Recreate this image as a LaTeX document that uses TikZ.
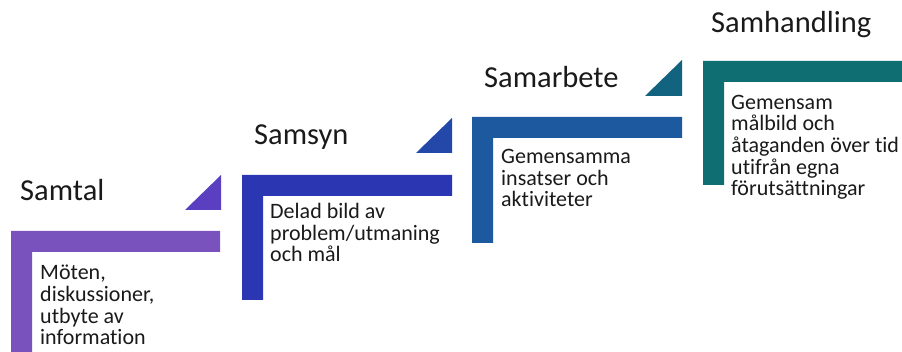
\documentclass[tikz,border=0pt]{standalone}
\usepackage{fontspec}
\setmainfont{Carlito}[Ligatures=NoCommon]
\definecolor{barA}{HTML}{7A52BE}
\definecolor{triA}{HTML}{5A3FC0}
\definecolor{barB}{HTML}{2B36B2}
\definecolor{triB}{HTML}{2447AA}
\definecolor{barC}{HTML}{1C599E}
\definecolor{triC}{HTML}{11637F}
\definecolor{barD}{HTML}{0E6E72}
\definecolor{txt}{HTML}{1A1A1A}
\begin{document}
\begin{tikzpicture}[x=1pt,y=-1pt,
  titletext/.style={anchor=base west,inner sep=0pt,text=txt,font=\fontsize{30.5}{36}\selectfont},
  bodytext/.style={anchor=base west,inner sep=0pt,text=txt,align=left,font=\fontsize{22}{21.7}\selectfont}]
\useasboundingbox (0,0) rectangle (902,352);
% step 1
\fill[barA] (11,231) -- (220,231) -- (220,252) -- (32,252) -- (32,352) -- (11,352) -- cycle;
\fill[triA] (221,175) -- (221,210) -- (185,210) -- cycle;
% step 2
\fill[barB] (242,175) -- (452,175) -- (452,196) -- (263,196) -- (263,300) -- (242,300) -- cycle;
\fill[triB] (452,118) -- (452,153) -- (416,153) -- cycle;
% step 3
\fill[barC] (472,117) -- (682,117) -- (682,138) -- (493,138) -- (493,243) -- (472,243) -- cycle;
\fill[triC] (682,60) -- (682,96) -- (645,96) -- cycle;
% step 4
\fill[barD] (703,61) -- (902,61) -- (902,82) -- (724,82) -- (724,185) -- (703,185) -- cycle;
% titles
\node[titletext] (t1) at (20,201) {Samtal};
\node[titletext] (t2) at (254,145) {Samsyn};
\node[titletext] (t3) at (484,88) {Samarbete};
\node[titletext] (t4) at (711,33) {Samhandling};
% bodies (anchor at baseline of last line)
\node[bodytext] (b1) at (40,345) {Möten,\\diskussioner,\\utbyte av\\information};
\node[bodytext] (b2) at (270,262) {Delad bild av\\problem/utmaning\\och mål};
\node[bodytext] (b3) at (501,207) {Gemensamma\\insatser och\\aktiviteter};
\node[bodytext] (b4) at (731,196) {Gemensam\\målbild och\\åtaganden över tid\\utifrån egna\\förutsättningar};
\end{tikzpicture}
\end{document}
